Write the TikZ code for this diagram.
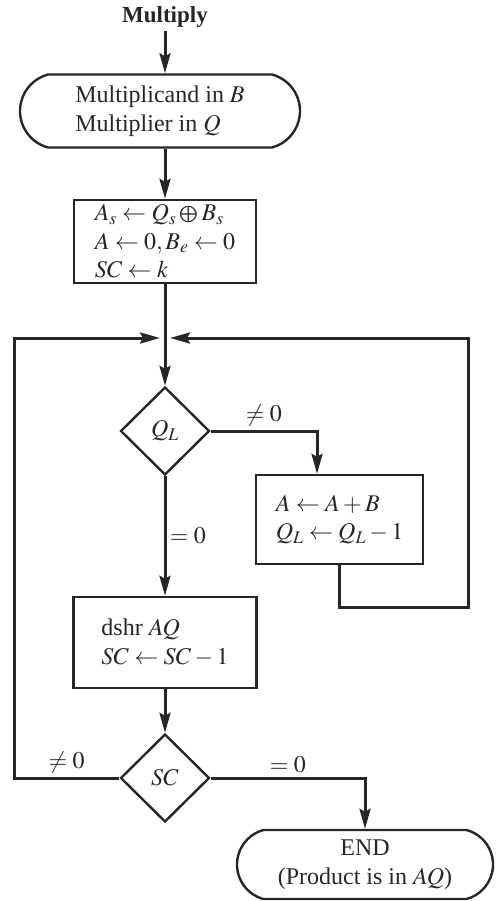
\documentclass[tikz,border=0pt]{standalone}
\usepackage{amssymb,amsmath}
\usepackage{mathptmx}
\usepackage[no-math]{fontspec}
\setmainfont{Liberation Serif}
\usepackage{tikz}
\usetikzlibrary{shapes.geometric,shapes.misc,arrows.meta}

\begin{document}
\begin{tikzpicture}[x=1pt, y=-1pt, >={Stealth[length=20pt,width=11pt,inset=3pt]},
		font=\fontsize{24}{28.5}\selectfont, color=black!85,
		flow/.style={line width=3pt},
		startstop/.style={rounded rectangle, rounded rectangle arc length=150, draw, line width=2.4pt, align=left, inner sep=0pt},
		process/.style={rectangle, draw, line width=2.4pt, align=left, inner sep=0pt},
		decision/.style={diamond, draw, line width=2.4pt, inner sep=0pt, minimum width=89pt, minimum height=88pt}]
		\useasboundingbox (0,0) rectangle (495,901);
		\node[font=\fontsize{23}{26}\selectfont\bfseries] (mult) at (165,17) {Multiply};
		\node[startstop, minimum width=280pt, minimum height=73pt] (load) at (160,111) {Multiplicand in $B$\\Multiplier in $Q$};
		\node[process, minimum width=182pt, minimum height=83pt] (init) at (165,241.5) {$A_s \leftarrow Q_s\pmb{\oplus} B_s$\\$A \leftarrow 0, B_e \leftarrow 0$\\$SC \leftarrow k$};
		\coordinate (join) at (165,338);
		\coordinate (leftturn) at (14,338);
		\coordinate (rightturn) at (468,338);
		\coordinate (loopbottom) at (468,607);
		\node[decision] (ql) at (165,431) {$Q_L$};
		\node[process, minimum width=167pt, minimum height=89pt] (add) at (339.5,519.5) {$A \leftarrow A + B$\\$Q_L \leftarrow Q_L - 1$};
		\node[process, minimum width=183pt, minimum height=91pt] (shift) at (165,642.5) {dshr $AQ$\\$SC \leftarrow SC - 1$};
		\node[decision] (sc) at (165,778) {$SC$};
		\node[startstop, minimum width=256pt, minimum height=69pt, align=center] (stop) at (365,864.5) {END\\(Product is in $AQ$)};
		% main column
		\draw[flow,->] (mult) -- (mult |- load.north);
		\draw[flow,->] (load.south -| mult) -- (init);
		\draw[flow] (init) -- (join);
		\draw[flow,->] (join) -- (ql);
		\draw[flow,->] (ql.east) -| node[pos=0.25, above] {$\neq 0$} ([xshift=-22.5pt]add.north);
		\draw[flow,->] (ql) -- node[right] {$=0$} (shift);
		\draw[flow,->] (shift) -- (sc);
		\draw[flow,->] (sc.east) -| node[pos=0.25, above] {$=0$} (stop.north);
		% loops back to the top
		\draw[flow,->, shorten >=5pt] (add.south) |- (loopbottom) -- (rightturn) -- (join);
		\draw[flow,->, shorten >=5pt] (sc.west) -| node[pos=0.25, above] {$\neq 0$} (leftturn) -- (join);
	\end{tikzpicture}
\end{document}
